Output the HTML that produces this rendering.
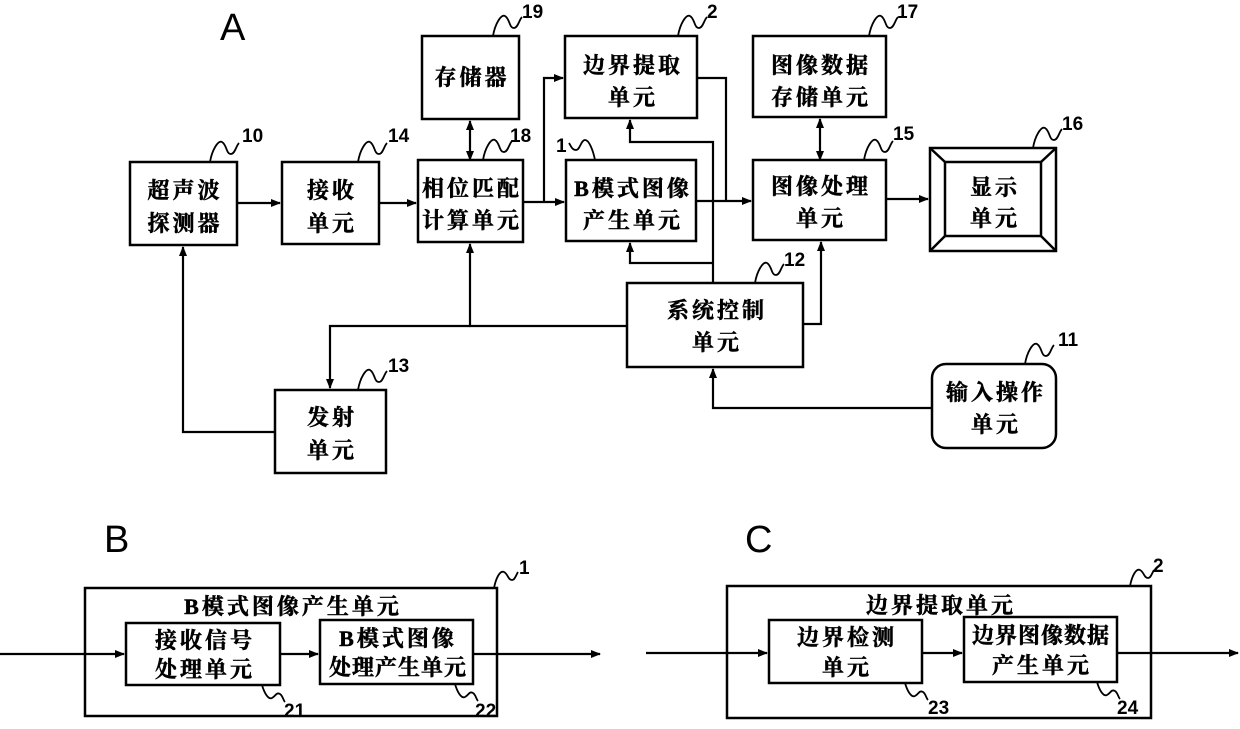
<!DOCTYPE html>
<html><head><meta charset="utf-8"><style>
body{margin:0;background:#fff}
svg text{font-family:"Liberation Serif","Noto Serif CJK SC","Noto Sans CJK SC",serif;font-weight:bold;fill:#000}
.n{font-family:"Liberation Sans",sans-serif;font-size:19px;font-weight:bold}
.L{font-family:"Liberation Sans",sans-serif;font-size:38px;font-weight:normal}
.t{font-size:22px;text-anchor:middle;letter-spacing:3px;stroke:#000;stroke-width:0.5px}
</style></head><body>
<svg width="1240" height="724" viewBox="0 0 1240 724" xmlns="http://www.w3.org/2000/svg">
<defs><marker id="a" markerWidth="10" markerHeight="10" refX="9" refY="5" orient="auto" markerUnits="userSpaceOnUse"><path d="M0,1 L10,5 L0,9 Z" fill="#000"/></marker>
<marker id="s" markerWidth="10" markerHeight="10" refX="1" refY="5" orient="auto" markerUnits="userSpaceOnUse"><path d="M10,1 L0,5 L10,9 Z" fill="#000"/></marker></defs>
<g fill="none" stroke="#000" stroke-width="2.5">
<rect x="130" y="162" width="107" height="83"/>
<rect x="282" y="162" width="97" height="82"/>
<rect x="422" y="36" width="97" height="83"/>
<rect x="418" y="160" width="105" height="82"/>
<rect x="565" y="36" width="132" height="82"/>
<rect x="566" y="160" width="130" height="81"/>
<rect x="753" y="36" width="133" height="81"/>
<rect x="753" y="160" width="133" height="80"/>
<rect x="627" y="283" width="176" height="84"/>
<rect x="275" y="390" width="111" height="83"/>
<rect x="930" y="148" width="126" height="103"/>
<rect x="945" y="162" width="96" height="74"/>
<path d="M930,148 L945,162 M1056,148 L1041,162 M930,251 L945,236 M1056,251 L1041,236"/>
<rect x="932" y="364" width="124" height="84" rx="14"/>
<rect x="85" y="588" width="412" height="128"/>
<rect x="126" y="623" width="154" height="62"/>
<rect x="320" y="620" width="153" height="64"/>
<rect x="727" y="586" width="424" height="132"/>
<rect x="769" y="620" width="153" height="63"/>
<rect x="964" y="617" width="153" height="65"/>
</g>
<g fill="none" stroke="#000" stroke-width="2.2">
<path d="M237,203 H280" marker-end="url(#a)"/>
<path d="M379,203 H416" marker-end="url(#a)"/>
<path d="M523,202 H564" marker-end="url(#a)"/>
<path d="M544,202 V78 H563" marker-end="url(#a)"/>
<path d="M696,201 H751" marker-end="url(#a)"/>
<path d="M697,78 H726 V201"/>
<path d="M470,160 V121" marker-start="url(#s)" marker-end="url(#a)"/>
<path d="M820,160 V119" marker-start="url(#s)" marker-end="url(#a)"/>
<path d="M886,199 H928" marker-end="url(#a)"/>
<path d="M713,283 V142 H630 V120" marker-end="url(#a)"/>
<path d="M713,263 H630 V243" marker-end="url(#a)"/>
<path d="M803,324 H821 V242" marker-end="url(#a)"/>
<path d="M627,326 H470 V244" marker-end="url(#a)"/>
<path d="M470,326 H330 V388" marker-end="url(#a)"/>
<path d="M275,432 H183 V247" marker-end="url(#a)"/>
<path d="M932,408 H713 V369" marker-end="url(#a)"/>
<path d="M0,654 H124" marker-end="url(#a)"/>
<path d="M280,654 H318" marker-end="url(#a)"/>
<path d="M473,654 H600" marker-end="url(#a)"/>
<path d="M646,653 H767" marker-end="url(#a)"/>
<path d="M922,653 H962" marker-end="url(#a)"/>
<path d="M1117,653 H1238" marker-end="url(#a)"/>
</g>
<g fill="none" stroke="#000" stroke-width="1.8">
<path d="M210,162 C212,150 218,140 222,142 C227,145 226,154 231,154 C235,154 236,146 239,143"/>
<path d="M358,162 C360,150 366,140 370,142 C375,145 374,154 379,154 C383,154 384,146 387,143"/>
<path d="M493,36 C495,24 501,14 505,16 C510,19 509,28 514,28 C518,28 519,20 522,17"/>
<path d="M483,160 C485,148 491,138 495,140 C500,143 499,152 504,152 C508,152 509,144 512,141"/>
<path d="M678,36 C680,24 686,14 690,16 C695,19 694,28 699,28 C703,28 704,20 707,17"/>
<path d="M595,160 C593,150 589,140 585,140 C581,140 580,150 576,150 C572,150 571,146 569,143"/>
<path d="M869,36 C871,24 877,14 881,16 C886,19 885,28 890,28 C894,28 895,20 898,17"/>
<path d="M864,160 C866,148 872,138 876,140 C881,143 880,152 885,152 C889,152 890,144 893,141"/>
<path d="M1033,148 C1035,136 1041,126 1045,128 C1050,131 1049,140 1054,140 C1058,140 1059,132 1062,129"/>
<path d="M1025,364 C1027,352 1033,342 1037,344 C1042,347 1041,356 1046,356 C1050,356 1051,348 1054,345"/>
<path d="M755,283 C757,271 763,261 767,263 C772,266 771,275 776,275 C780,275 781,267 784,264"/>
<path d="M358,390 C360,378 366,368 370,370 C375,373 374,382 379,382 C383,382 384,374 387,371"/>
<path d="M494,588 C496,578 500,570 504,572 C508,574 508,580 512,580 C515,580 516,575 518,572"/>
<path d="M1130,586 C1132,576 1136,568 1140,570 C1144,572 1144,578 1148,578 C1151,578 1152,573 1154,570"/>
<path d="M262,685 C264,692 268,700 272,698 C276,696 276,692 280,694 C283,696 283,700 285,702"/>
<path d="M455,684 C457,691 461,699 465,697 C469,695 469,691 473,693 C476,695 476,699 478,701"/>
<path d="M905,683 C907,690 911,698 915,696 C919,694 919,690 923,692 C926,694 926,698 928,700"/>
<path d="M1097,682 C1099,689 1103,697 1107,695 C1111,693 1111,689 1115,691 C1118,693 1118,697 1120,699"/>
</g>
<text class="L" x="220" y="40">A</text>
<text class="L" x="104" y="552">B</text>
<text class="L" x="745" y="552">C</text>
<text class="n" x="242" y="142">10</text>
<text class="n" x="388" y="142">14</text>
<text class="n" x="522" y="18">19</text>
<text class="n" x="510" y="142">18</text>
<text class="n" x="707" y="18">2</text>
<text class="n" x="556" y="152">1</text>
<text class="n" x="897" y="18">17</text>
<text class="n" x="893" y="140">15</text>
<text class="n" x="1062" y="130">16</text>
<text class="n" x="1058" y="346">11</text>
<text class="n" x="784" y="266">12</text>
<text class="n" x="388" y="372">13</text>
<text class="n" x="519" y="574">1</text>
<text class="n" x="1153" y="572">2</text>
<text class="n" x="284" y="717">21</text>
<text class="n" x="475" y="717">22</text>
<text class="n" x="928" y="714">23</text>
<text class="n" x="1117" y="714">24</text>
<g>
<text class="t" x="185" y="198">超声波</text><text class="t" x="185" y="231">探测器</text>
<text class="t" x="332" y="198">接收</text><text class="t" x="332" y="231">单元</text>
<text class="t" x="472" y="85">存储器</text>
<text class="t" x="472" y="196">相位匹配</text><text class="t" x="472" y="228">计算单元</text>
<text class="t" x="633" y="73">边界提取</text><text class="t" x="633" y="105">单元</text>
<text class="t" x="633" y="196">B模式图像</text><text class="t" x="633" y="228">产生单元</text>
<text class="t" x="821" y="73">图像数据</text><text class="t" x="821" y="105">存储单元</text>
<text class="t" x="821" y="194">图像处理</text><text class="t" x="821" y="226">单元</text>
<text class="t" x="995" y="195">显示</text><text class="t" x="995" y="226">单元</text>
<text class="t" x="717" y="318">系统控制</text><text class="t" x="717" y="350">单元</text>
<text class="t" x="332" y="425">发射</text><text class="t" x="332" y="458">单元</text>
<text class="t" x="996" y="400">输入操作</text><text class="t" x="996" y="432">单元</text>
<text class="t" x="293" y="614">B模式图像产生单元</text>
<text class="t" x="205" y="648">接收信号</text><text class="t" x="205" y="677">处理单元</text>
<text class="t" x="398" y="646">B模式图像</text><text class="t" x="398" y="675" style="letter-spacing:1px">处理产生单元</text>
<text class="t" x="941" y="613">边界提取单元</text>
<text class="t" x="847" y="645">边界检测</text><text class="t" x="847" y="675">单元</text>
<text class="t" x="1041" y="643" style="letter-spacing:1px">边界图像数据</text><text class="t" x="1042" y="673">产生单元</text>
</g>
</svg>
</body></html>
